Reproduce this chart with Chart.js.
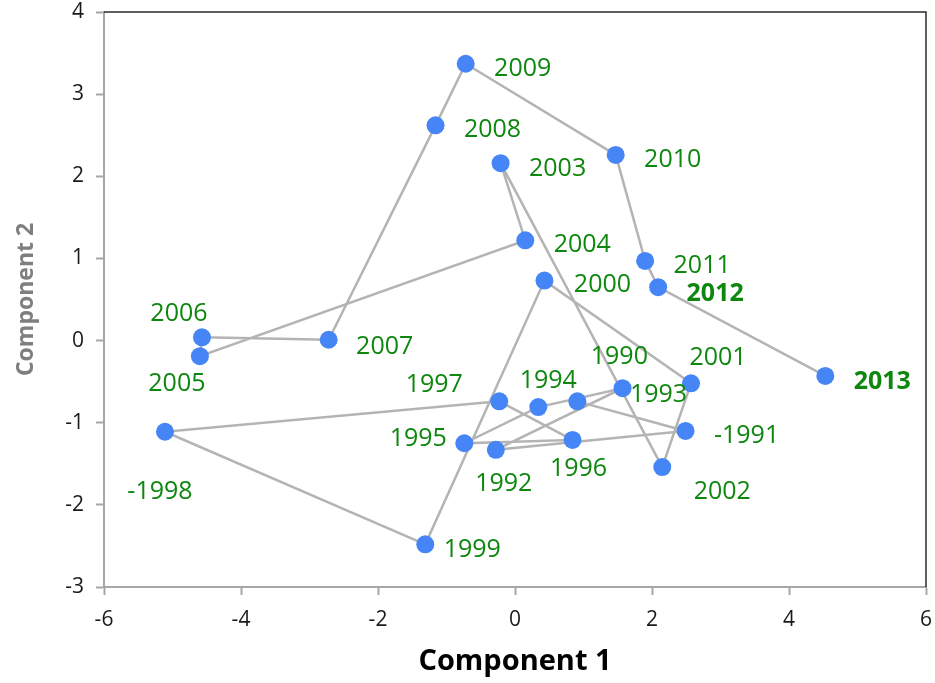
<!DOCTYPE html>
<html>
<head>
<meta charset="utf-8">
<script src="https://cdn.jsdelivr.net/npm/chart.js@4/dist/chart.umd.min.js"></script>
<style>
  body { margin: 0; background: #fff; }
  #wrap { width: 935px; height: 683px; }
</style>
</head>
<body>
<div id="wrap"><canvas id="pcaChart" width="935" height="683"></canvas></div>
<script>
// Datos: años y coordenadas en las dos componentes
const yearLabels = ['1990', '-1991', '1992', '1993', '1994', '1995', '1996', '1997', '-1998', '1999',
                    '2000', '2001', '2002', '2003', '2004', '2005', '2006', '2007', '2008', '2009',
                    '2010', '2011', '2012', '2013'];
const comp1 = [0.91, 2.49, -0.28, 1.57, 0.34, -0.74, 0.84, -0.23, -5.11, -1.31,
               0.43, 2.57, 2.15, -0.21, 0.15, -4.60, -4.57, -2.72, -1.16, -0.72,
               1.47, 1.90, 2.09, 4.53];
const comp2 = [-0.74, -1.10, -1.33, -0.58, -0.81, -1.25, -1.21, -0.74, -1.11, -2.48,
               0.73, -0.52, -1.54, 2.16, 1.22, -0.19, 0.04, 0.01, 2.62, 3.37,
               2.26, 0.97, 0.65, -0.43];
const boldYears = ['2012', '2013'];

// Desplazamiento de cada etiqueta respecto a su punto (px)
const labelOffsets = [[42, -46], [61, 3], [8, 32], [36, 5], [10, -28], [-46, -6], [6, 27], [-65, -18], [-5, 58], [47, 4],
                      [58, 2], [27, -27], [60, 23], [57, 4], [57, 3], [-23, 26], [-23, -25], [56, 5], [57, 3], [57, 3],
                      [57, 3], [57, 3], [57, 5], [57, 4]];

const points = comp1.map((x, i) => ({ x: x, y: comp2[i] }));

const yearLabelPlugin = {
    id: 'yearLabels',
    afterDatasetsDraw(chart) {
        const ctx = chart.ctx;
        const xs = chart.scales.x;
        const ys = chart.scales.y;
        ctx.save();
        ctx.fillStyle = '#0e870e';
        ctx.textAlign = 'center';
        ctx.textBaseline = 'alphabetic';
        yearLabels.forEach((txt, i) => {
            const bold = boldYears.includes(txt);
            ctx.font = (bold ? 'bold ' : '') + '25px "Open Sans"';
            const px = xs.getPixelForValue(comp1[i]) + labelOffsets[i][0];
            const py = ys.getPixelForValue(comp2[i]) + labelOffsets[i][1];
            ctx.fillText(txt, px, py + 9);
        });
        ctx.restore();
    }
};

// Borde superior y derecho del área de trazado
const framePlugin = {
    id: 'frame',
    beforeDatasetsDraw(chart) {
        const a = chart.chartArea;
        const ctx = chart.ctx;
        ctx.save();
        ctx.strokeStyle = '#2a2a2a';
        ctx.lineWidth = 1.5;
        ctx.beginPath();
        ctx.moveTo(a.left, a.top);
        ctx.lineTo(a.right, a.top);
        ctx.lineTo(a.right, a.bottom);
        ctx.stroke();
        ctx.restore();
    }
};

const ctx = document.getElementById('pcaChart').getContext('2d');
new Chart(ctx, {
    type: 'scatter',
    data: {
        datasets: [{
            data: points,
            showLine: true,
            borderColor: '#b4b4b4',
            borderWidth: 2.5,
            tension: 0,
            pointRadius: 9,
            pointBackgroundColor: '#4585f5',
            pointBorderColor: '#4585f5',
            pointBorderWidth: 0
        }]
    },
    options: {
        responsive: false,
        animation: false,
        layout: { padding: 0 },
        plugins: {
            legend: { display: false },
            tooltip: { enabled: false }
        },
        scales: {
            x: {
                type: 'linear',
                min: -6,
                max: 6,
                afterFit: function(scale) {
                    scale.height = 96;
                    scale.paddingLeft = 0;
                    scale.paddingRight = 8;
                },
                grid: { drawOnChartArea: false, tickLength: 8, tickColor: '#a6a6a6', tickWidth: 2 },
                border: { color: '#a6a6a6', width: 2 },
                ticks: { stepSize: 2, padding: 12, color: '#1a1a1a', font: { family: 'Open Sans', size: 21 } },
                title: {
                    display: true,
                    text: 'Component 1',
                    color: '#000',
                    font: { family: 'Open Sans', size: 29, weight: 'bold' },
                    padding: { top: 0, bottom: 4 }
                }
            },
            y: {
                type: 'linear',
                min: -3,
                max: 4,
                afterFit: function(scale) {
                    scale.width = 104;
                    scale.paddingTop = 12;
                    scale.paddingBottom = 0;
                },
                grid: { drawOnChartArea: false, tickLength: 8, tickColor: '#a6a6a6', tickWidth: 2 },
                border: { color: '#a6a6a6', width: 2 },
                ticks: { stepSize: 1, padding: 12, color: '#1a1a1a', font: { family: 'Open Sans', size: 21 } },
                title: {
                    display: true,
                    text: 'Component 2',
                    color: '#7f7f7f',
                    font: { family: 'Open Sans', size: 23, weight: 'bold' },
                    padding: { top: 13, bottom: 0 }
                }
            }
        }
    },
    plugins: [yearLabelPlugin, framePlugin]
});
</script>
</body>
</html>
